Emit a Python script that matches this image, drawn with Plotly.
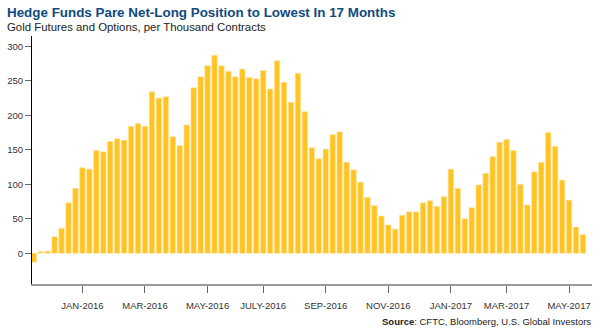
import plotly.graph_objects as go
import pandas as pd

# Weekly CFTC report dates (categories)
weeks = [d.strftime("%Y-%m-%d") for d in pd.date_range("2015-11-17", periods=80, freq="7D")]

# Net-long position, thousand contracts
net_long = [-13, 2, 3, 24, 36, 73, 94, 124, 122, 149, 147, 162, 166, 164, 184, 188, 184,
            234, 225, 227, 169, 156, 186, 240, 256, 272, 287, 272, 264, 256, 267, 255,
            253, 265, 238, 279, 248, 219, 261, 205, 153, 137, 151, 172, 176, 132, 121,
            103, 81, 69, 54, 41, 35, 55, 60, 60, 73, 76, 68, 82, 122, 94, 50, 66, 99,
            116, 140, 161, 165, 149, 100, 70, 118, 132, 175, 155, 106, 77, 38, 27]

tick_idx = [7, 16, 25, 33, 42, 51, 60, 68, 77]
tick_labels = ["JAN-2016", "MAR-2016", "MAY-2016", "JULY-2016", "SEP-2016",
               "NOV-2016", "JAN-2017", "MAR-2017", "MAY-2017"]
y_ticks = [0, 50, 100, 150, 200, 250, 300]

fig = go.Figure()
fig.add_trace(go.Bar(
    x=weeks, y=net_long,
    marker=dict(color="#FFC322", line=dict(color="#FFE4A0", width=0.7)),
    hoverinfo="x+y",
))

L, T, W, H = 32, 36, 560, 248

def px(x):
    return (x - L) / W

def py(y):
    return (T + H - y) / H

fig.update_layout(
    width=600, height=328,
    margin=dict(l=L, r=600 - L - W, t=T, b=328 - T - H),
    paper_bgcolor="white", plot_bgcolor="white",
    bargap=0.22, showlegend=False,
    font=dict(family="Liberation Sans, Arial, sans-serif", color="#333333"),
    xaxis=dict(
        type="category", range=[-0.25, 80.3],
        tickvals=[weeks[i] for i in tick_idx], ticktext=tick_labels,
        showline=True, linecolor="#999999", linewidth=2,
        ticks="outside", ticklen=7, tickcolor="#666666", tickwidth=1,
        ticklabelstandoff=5,
        tickfont=dict(size=9.5, color="#333333"),
        showgrid=False, zeroline=False,
    ),
    yaxis=dict(
        range=[-44.6, 315], tickvals=y_ticks,
        showline=True, linecolor="#000000", linewidth=1,
        ticks="outside", ticklen=6, tickcolor="#666666", tickwidth=1,
        tickfont=dict(size=9.5, color="#333333"),
        showgrid=False, zeroline=False,
    ),
    annotations=[
        dict(text="<b>Hedge Funds Pare Net-Long Position to Lowest In 17 Months</b>",
             xref="paper", yref="paper", x=px(5), y=py(12), xanchor="left", yanchor="middle",
             showarrow=False,
             font=dict(family="Liberation Sans, Arial", size=13.4, color="#0F4A80")),
        dict(text="Gold Futures and Options, per Thousand Contracts",
             xref="paper", yref="paper", x=px(5), y=py(27), xanchor="left", yanchor="middle",
             showarrow=False,
             font=dict(family="Liberation Sans, Arial", size=11.4, color="#222222")),
        dict(text="<b>Source</b>: CFTC, Bloomberg, U.S. Global Investors",
             xref="paper", yref="paper", x=px(593), y=py(321), xanchor="right", yanchor="middle",
             showarrow=False,
             font=dict(family="Liberation Sans, Arial", size=9.5, color="#222222")),
    ],
)

fig.write_html("out.html")
